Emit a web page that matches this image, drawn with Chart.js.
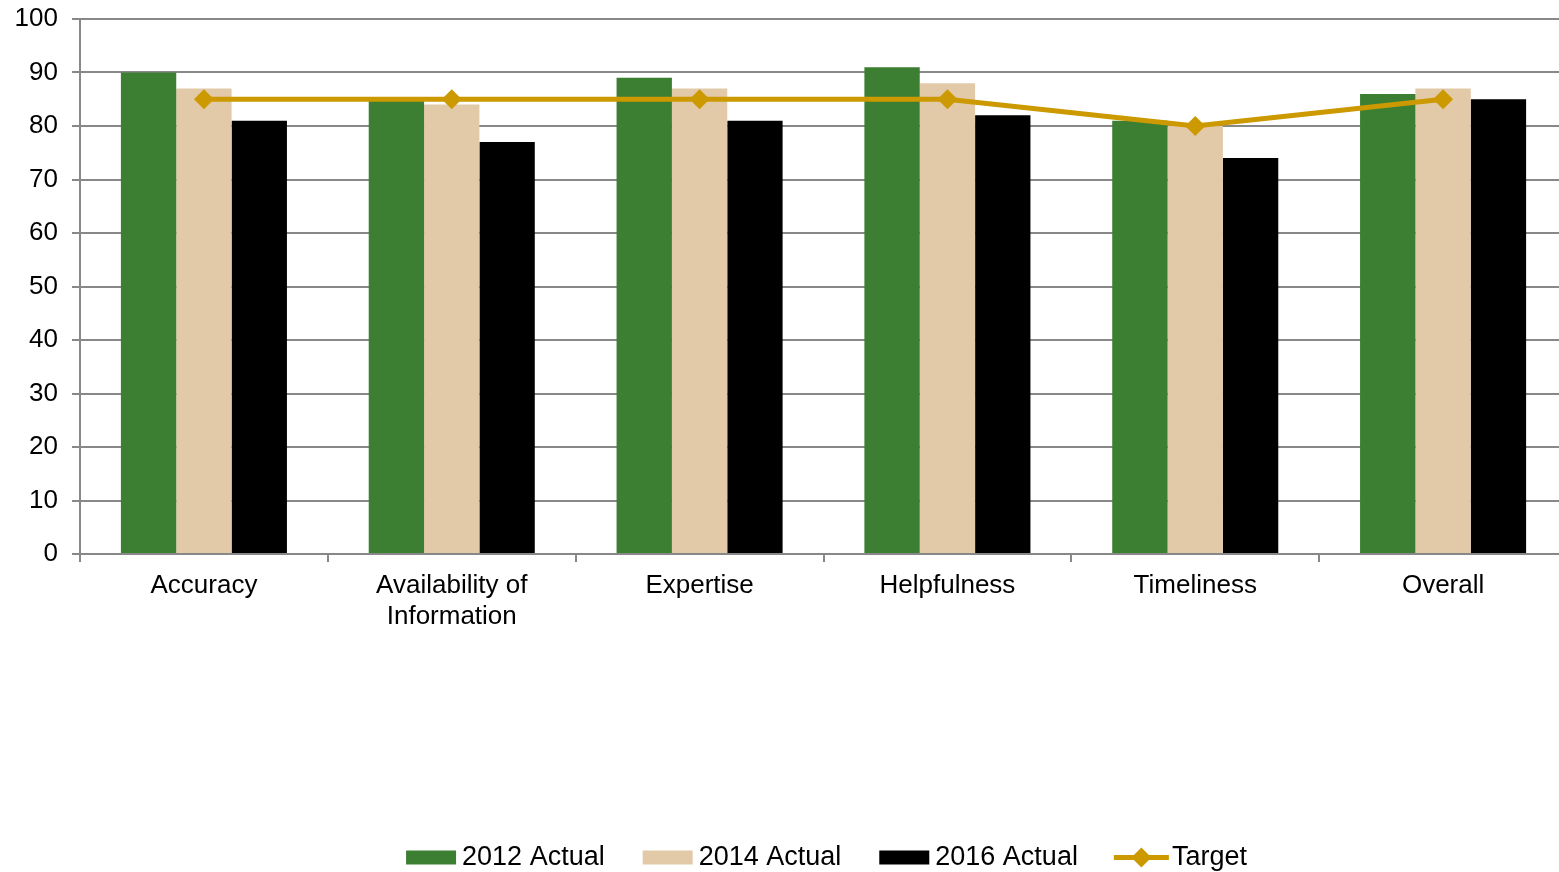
<!DOCTYPE html>
<html><head><meta charset="utf-8">
<script src="https://cdn.jsdelivr.net/npm/chart.js@4.4.0/dist/chart.umd.min.js"></script>
<style>html,body{margin:0;padding:0;background:#fff;overflow:hidden;width:1559px;height:872px}#wrap{width:1567px;height:872px;position:relative}</style>
</head><body><div id="wrap"><canvas id="c"></canvas></div>
<script>
const categories = ["Accuracy", ["Availability of", "Information"], "Expertise", "Helpfulness", "Timeliness", "Overall"];
const actual2012 = [90, 85, 89, 91, 81, 86];
const actual2014 = [87, 84, 87, 88, 80, 87];
const actual2016 = [81, 77, 81, 82, 74, 85];
const target = [85, 85, 85, 85, 80, 85];
const yTicks = [0, 10, 20, 30, 40, 50, 60, 70, 80, 90, 100];

const GOLD = '#CC9900';
const COLORS = ['#3C7F32', '#E2C9A8', '#000000'];
const FONT = "'Liberation Sans', Arial, sans-serif";
const LEGEND_SHIFT = 43;

const legendMarker = {
  id: 'legendMarker',
  afterUpdate(chart) {
    const lg = chart.legend;
    if (!lg || !lg.legendHitBoxes) return;
    lg.left += LEGEND_SHIFT; lg.right += LEGEND_SHIFT;
    lg.legendHitBoxes.forEach(h => { h.left += LEGEND_SHIFT; });
  },
  afterDraw(chart) {
    const lg = chart.legend;
    if (!lg || !lg.legendHitBoxes) return;
    const ctx = chart.ctx;
    ctx.save();
    lg.legendHitBoxes.forEach((box, i) => {
      const cy = box.top + box.height / 2;
      const x0 = box.left;
      if (i < 3) {
        ctx.fillStyle = COLORS[i];
        ctx.fillRect(x0, cy - 7, 50, 14);
      } else {
        ctx.strokeStyle = GOLD; ctx.lineWidth = 5;
        ctx.beginPath(); ctx.moveTo(x0 - 2, cy); ctx.lineTo(x0 + 53, cy); ctx.stroke();
        const cx = x0 + 25.5, r = 10;
        ctx.fillStyle = GOLD;
        ctx.beginPath(); ctx.moveTo(cx, cy - r); ctx.lineTo(cx + r, cy); ctx.lineTo(cx, cy + r); ctx.lineTo(cx - r, cy); ctx.closePath(); ctx.fill();
      }
    });
    ctx.restore();
  }
};

new Chart(document.getElementById('c'), {
  type: 'bar',
  data: {
    labels: categories,
    datasets: [
      { label: '2012 Actual', data: actual2012, backgroundColor: COLORS[0], order: 1, barPercentage: 1, categoryPercentage: 0.67 },
      { label: '2014 Actual', data: actual2014, backgroundColor: COLORS[1], order: 1, barPercentage: 1, categoryPercentage: 0.67 },
      { label: '2016 Actual', data: actual2016, backgroundColor: COLORS[2], order: 1, barPercentage: 1, categoryPercentage: 0.67 },
      { type: 'line', label: 'Target', data: target, borderColor: GOLD, backgroundColor: GOLD, borderWidth: 5,
        pointStyle: 'rectRot', pointRadius: 10, pointHoverRadius: 10, pointBorderWidth: 0, order: 0, tension: 0, clip: false }
    ]
  },
  options: {
    responsive: true, maintainAspectRatio: false, animation: false,
    layout: { autoPadding: false, padding: { top: 0, right: 0, left: 0, bottom: -9 } },
    plugins: {
      tooltip: { enabled: false },
      legend: {
        position: 'bottom',
        labels: {
          font: { family: FONT, size: 27 }, color: '#000',
          boxWidth: 42.5, boxHeight: 14, padding: 38,
          generateLabels(chart) {
            return chart.data.datasets.map((ds, i) => ({
              text: ds.label,
              fillStyle: 'rgba(0,0,0,0)',
              strokeStyle: 'rgba(0,0,0,0)', lineWidth: 0,
              datasetIndex: i, hidden: false
            }));
          }
        }
      }
    },
    scales: {
      x: {
        grid: { offset: true, drawOnChartArea: false, drawTicks: true, tickLength: 8, color: '#888', lineWidth: 2 },
        border: { color: '#888', width: 2 },
        ticks: { font: { family: FONT, size: 26 }, color: '#000', padding: 8, maxRotation: 0 },
        afterFit(s) { s.height = 252; s.paddingRight = 0; s.paddingLeft = 0; }
      },
      y: {
        min: 0, max: 100,
        afterBuildTicks(s) { s.ticks = yTicks.map(v => ({ value: v })); },
        grid: { color: '#888', lineWidth: 2, tickLength: 8 },
        border: { color: '#888', width: 2 },
        ticks: { font: { family: FONT, size: 26 }, color: '#000', padding: 14 },
        afterFit(s) { s.width = 80; s.paddingTop = 19; s.paddingBottom = 0; }
      }
    }
  },
  plugins: [legendMarker]
});
</script></body></html>
